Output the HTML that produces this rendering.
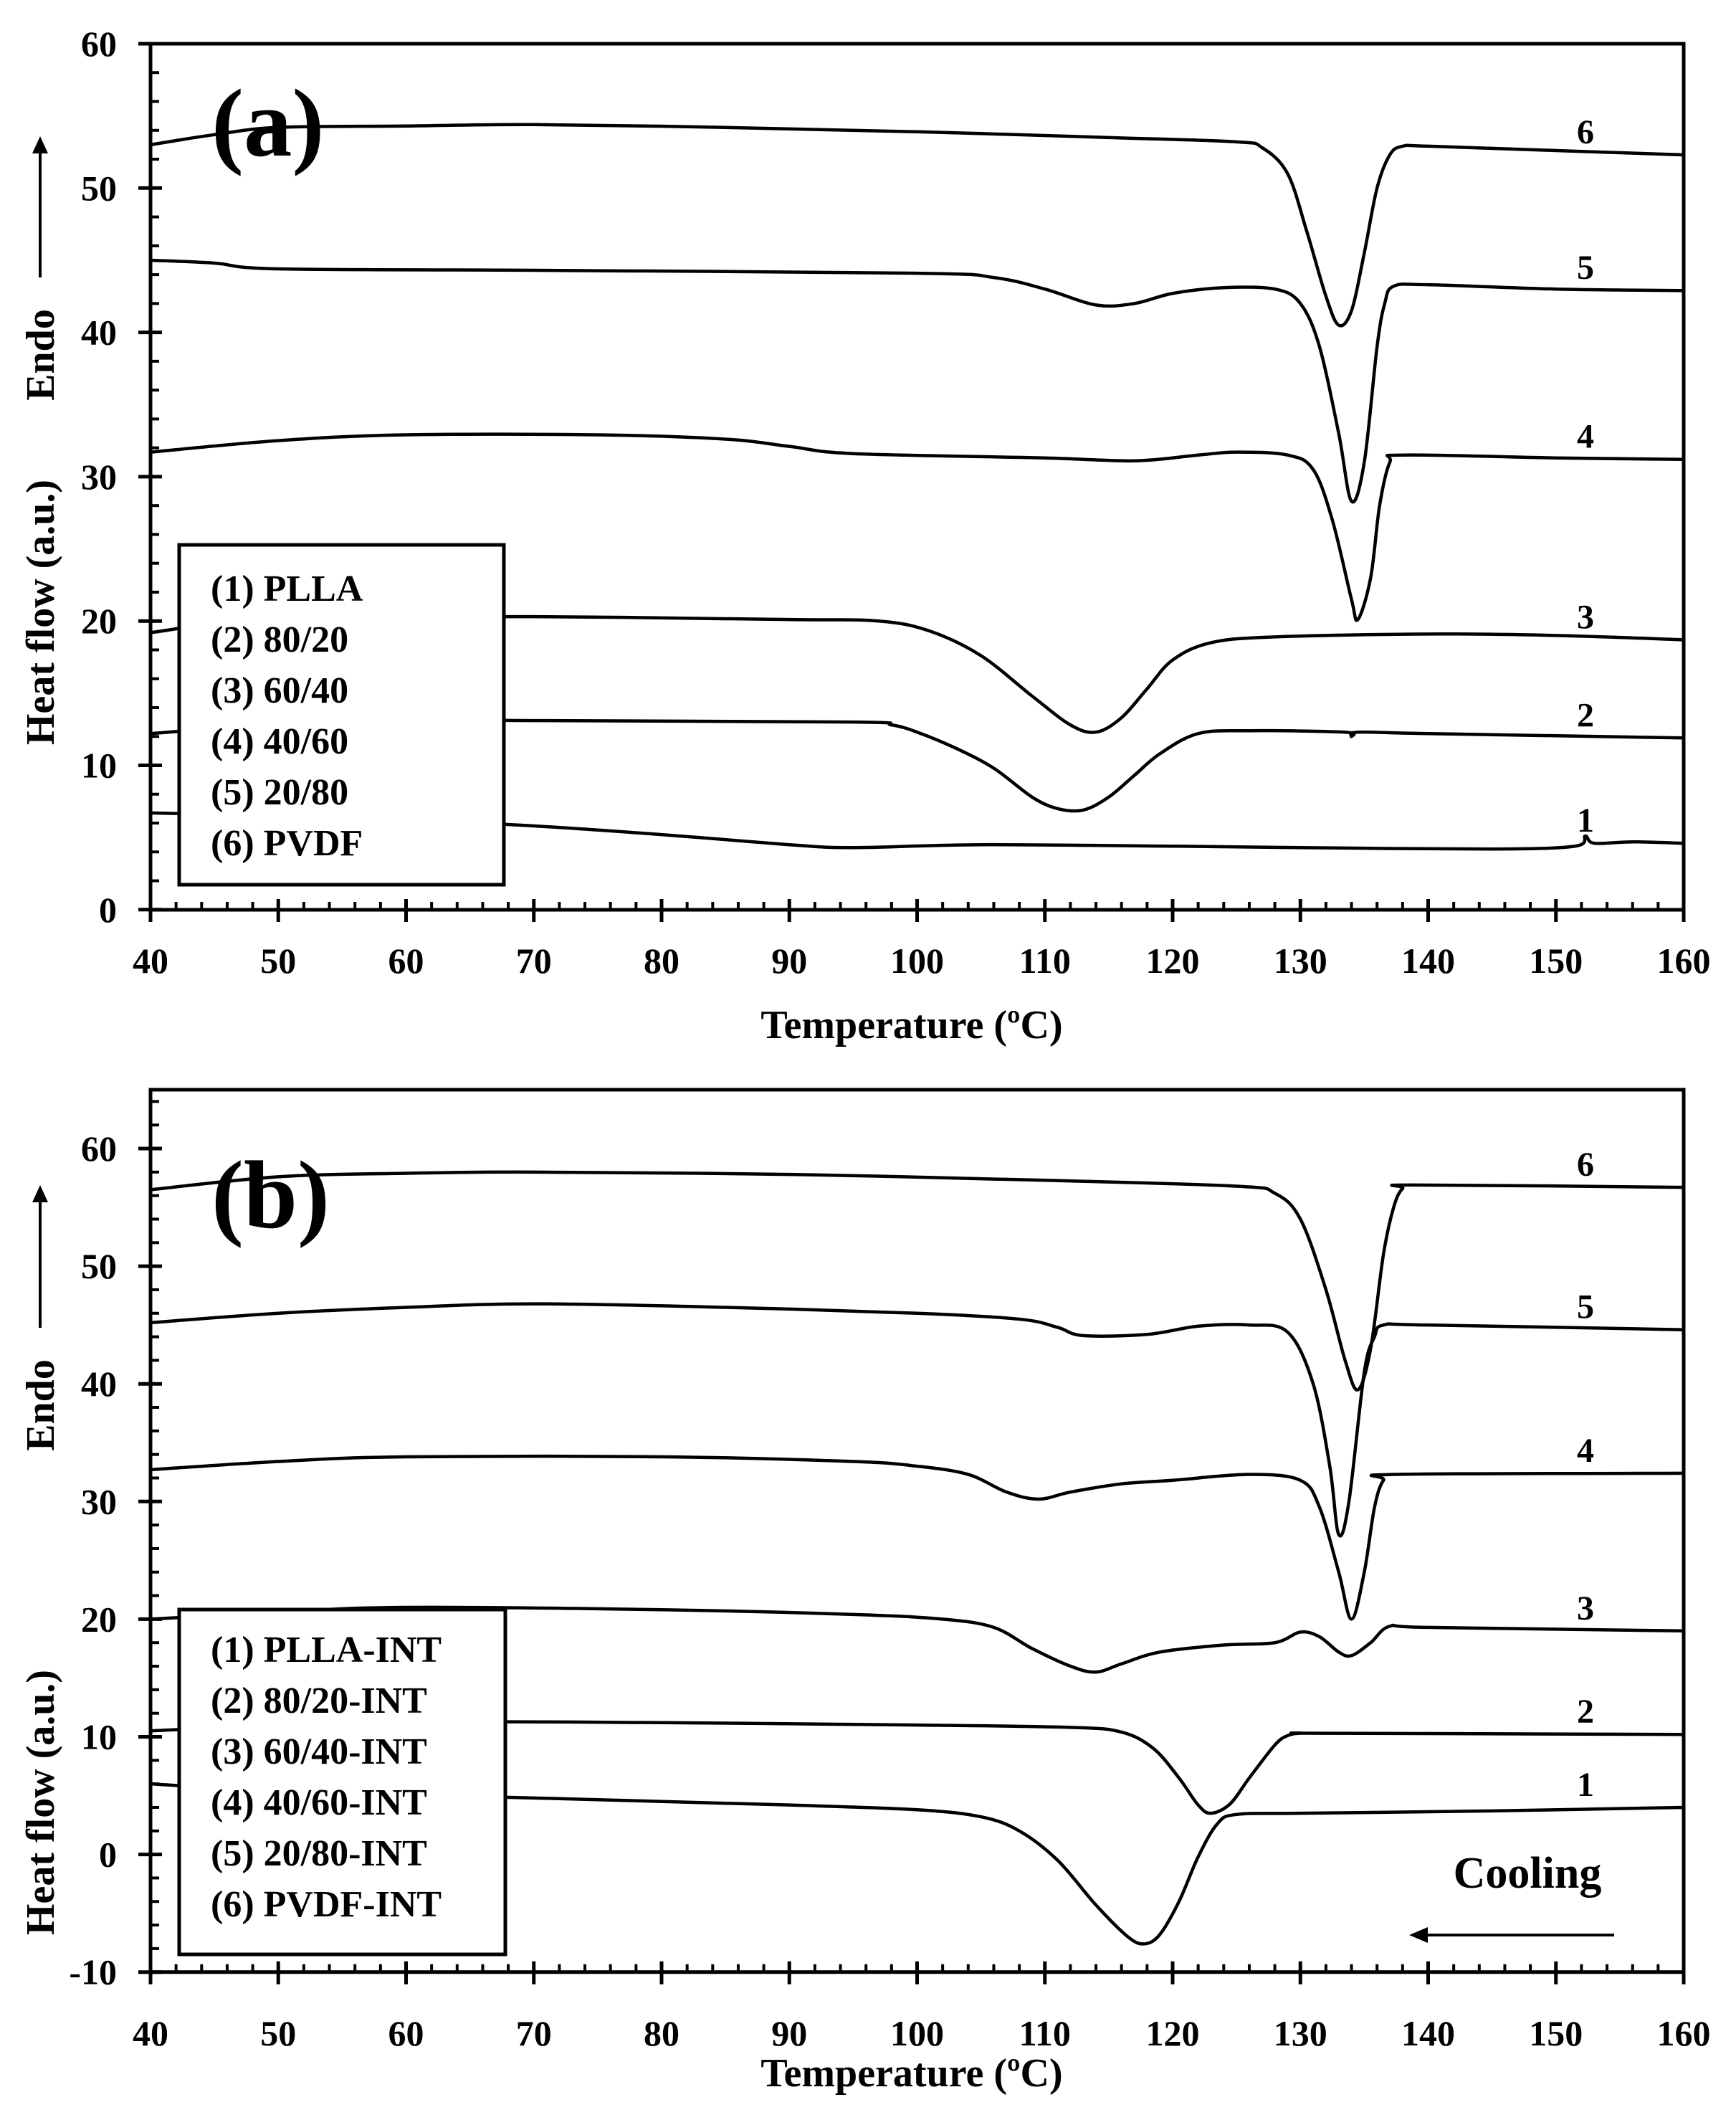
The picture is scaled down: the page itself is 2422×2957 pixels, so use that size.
<!DOCTYPE html>
<html><head><meta charset="utf-8"><style>
html,body{margin:0;padding:0;background:#fff}
svg{display:block}
text{font-family:"Liberation Serif",serif;font-weight:bold;fill:#000}
</style></head><body>
<svg id="s" width="2422" height="2957" viewBox="0 0 2422 2957" xmlns="http://www.w3.org/2000/svg"></svg>
<script>
const S=document.getElementById('s');
let h='';
const X=t=>210+(t-40)*17.825;
function panel(Y,ymin,ymax,top,bot,tickBase,curves,labels,legendBox,legend,legY0,tag,tagY){
  h+=`<rect x="210" y="${top}" width="2139" height="${bot-top}" fill="none" stroke="#000" stroke-width="5"/>`;
  for(let v=ymin;v<=ymax;v+=2){const y=Y(v);
    if(v%10===0){h+=`<line x1="193" x2="226" y1="${y}" y2="${y}" stroke="#000" stroke-width="5"/>`;
      h+=`<text x="163" y="${y+17}" font-size="50" text-anchor="end">${v}</text>`;}
    else h+=`<line x1="210" x2="222" y1="${y}" y2="${y}" stroke="#000" stroke-width="4"/>`;}
  for(let t=40;t<=160;t+=2){const x=X(t);
    if(t%10===0){h+=`<line x1="${x}" x2="${x}" y1="${bot-15}" y2="${bot+17}" stroke="#000" stroke-width="5"/>`;
      h+=`<text x="${x}" y="${tickBase}" font-size="50" text-anchor="middle">${t}</text>`;}
    else h+=`<line x1="${x}" x2="${x}" y1="${bot-11}" y2="${bot}" stroke="#000" stroke-width="4"/>`;}
  curves.forEach(c=>{
    const p=c.map(q=>[X(q[0]),Y(q[1])]);
    let d=`M${p[0][0]},${p[0][1]}`;
    for(let i=0;i<p.length-1;i++){
      const p0=p[Math.max(0,i-1)],p1=p[i],p2=p[i+1],p3=p[Math.min(p.length-1,i+2)];
      const c1=[p1[0]+(p2[0]-p0[0])/6,p1[1]+(p2[1]-p0[1])/6];
      const c2=[p2[0]-(p3[0]-p1[0])/6,p2[1]-(p3[1]-p1[1])/6];
      d+=` C${c1[0]},${c1[1]} ${c2[0]},${c2[1]} ${p2[0]},${p2[1]}`;}
    h+=`<path d="${d}" fill="none" stroke="#000" stroke-width="4.5" stroke-linejoin="round"/>`;
  });
  labels.forEach((l,i)=>{h+=`<text x="2212" y="${Y(l)-16}" font-size="48" text-anchor="middle">${i+1}</text>`;});
  const [lx,ly,lw,lh]=legendBox;
  h+=`<rect x="${lx}" y="${ly}" width="${lw}" height="${lh}" fill="#fff" stroke="#000" stroke-width="5"/>`;
  legend.forEach((s,i)=>{h+=`<text x="294" y="${legY0+i*71}" font-size="52">${s}</text>`;});
  h+=`<text x="295" y="${tagY}" font-size="135">${tag}</text>`;
}
const Ya=v=>61+(60-v)*20.13;
panel(Ya,0,60,61,1269,1357,[
 [[40,53],[45,53.7],[50,54.2],[60,54.3],[70,54.4],[85,54.2],[100,53.9],[115,53.5],[125,53.2],[127,52.8],[129,51],[130.5,47],[132,42.5],[133,40.5],[134,41.5],[135,45.5],[136,50],[137,52.3],[138,52.9],[140,52.9],[150,52.6],[160,52.3]],
 [[40,45],[45,44.8],[50,44.4],[70,44.3],[100,44.1],[106,43.8],[110,43],[114,41.9],[117,42],[120,42.7],[124,43.1],[128,43],[130,42],[131.5,39],[133,33],[134,28.3],[135,31],[136,39],[136.6,42],[137.3,43.2],[140,43.3],[150,43],[160,42.9]],
 [[40,31.7],[50,32.5],[60,32.9],[75,32.9],[85,32.6],[90,32.1],[95,31.6],[110,31.3],[117,31.1],[122,31.5],[125,31.7],[129,31.5],[131,30.5],[132.5,27],[134,21.5],[134.5,20.1],[135.5,23],[136.2,28],[137,31],[138,31.5],[150,31.3],[160,31.2]],
 [[40,19.2],[50,20.2],[70,20.3],[90,20.1],[97,20],[101,19.3],[105,17.6],[109,14.8],[112,12.8],[114,12.3],[116,13.3],[118,15.3],[120,17.3],[123,18.5],[128,18.9],[140,19.1],[150,19],[160,18.7]],
 [[40,12.2],[50,12.9],[55,13.2],[70,13.1],[95,13],[98,12.8],[100,12.3],[103,11.2],[106,9.8],[109,7.8],[111,7],[113,6.9],[115,7.8],[117,9.3],[119,10.8],[122,12.2],[126,12.4],[133.5,12.3],[134,12],[134.5,12.3],[140,12.2],[160,11.9]],
 [[40,6.7],[50,6.5],[60,6.2],[70,5.8],[80,5.2],[90,4.5],[95,4.3],[105,4.5],[120,4.4],[130,4.3],[145,4.2],[151.5,4.4],[152.3,5.1],[153,4.6],[156,4.7],[160,4.6]]
],[4.6,11.9,18.7,31.2,42.9,52.3],[250,760,453,474],["(1) PLLA","(2) 80/20","(3) 60/40","(4) 40/60","(5) 20/80","(6) PVDF"],838,"(a)",217);
const Yb=v=>1602-(v-60)*16.41;
panel(Yb,-10,65,Yb(65),Yb(-10),2853,[
 [[40,56.5],[50,57.6],[60,57.9],[70,58],[90,57.8],[110,57.3],[125,56.8],[128,56.2],[130,54],[132,48],[133.5,42],[134.5,39.5],[135.5,43],[136.5,51],[137.3,55],[138,56.6],[139,56.9],[160,56.7]],
 [[40,45.2],[50,46],[60,46.5],[70,46.8],[85,46.5],[100,46],[108,45.5],[111,44.8],[113,44.1],[118,44.2],[122,44.9],[126,45],[129,44.4],[131,40],[132.3,33],[133,27.2],[133.8,30],[135,41],[135.8,44],[136.5,45],[140,45],[160,44.6]],
 [[40,32.7],[50,33.4],[60,33.8],[80,33.8],[95,33.4],[100,33],[104,32.3],[107,30.8],[109.5,30.2],[112,30.8],[116,31.5],[120,31.8],[126,32.3],[130,31.8],[131.5,29.5],[133,24],[134,20],[135,24],[135.8,29.5],[136.5,31.8],[137.5,32.3],[160,32.4]],
 [[40,20],[50,20.6],[60,21],[80,20.8],[95,20.4],[102,20],[106,19.3],[109,17.5],[112,16],[114,15.5],[116,16.2],[119,17.2],[124,17.8],[128,18],[130,18.9],[131.5,18.5],[133,17.2],[134,16.9],[135.5,18],[137,19.4],[140,19.3],[160,19]],
 [[40,10.5],[50,11],[60,11.3],[80,11.2],[100,11],[112,10.8],[116,10.4],[118.5,9],[120.5,6.5],[122,4.2],[123,3.5],[124.5,4.3],[126,6.5],[128,9.3],[129,10.1],[130,10.3],[132,10.3],[160,10.2]],
 [[40,6],[50,5.4],[70,4.8],[90,4.2],[100,3.8],[105,3.2],[108,2],[111,-0.5],[114,-4.3],[116.5,-7],[117.8,-7.6],[119,-6.8],[120.5,-4],[122,-0.2],[123.5,2.6],[125,3.4],[130,3.5],[145,3.7],[160,4]]
],[4,10.2,19,32.4,44.6,56.7],[250,2245,455,481],["(1) PLLA-INT","(2) 80/20-INT","(3) 60/40-INT","(4) 40/60-INT","(5) 20/80-INT","(6) PVDF-INT"],2318,"(b)",1712);
h+=`<text x="1272" y="1448" font-size="56" text-anchor="middle">Temperature (ºC)</text>`;
h+=`<text x="1272" y="2910" font-size="56" text-anchor="middle">Temperature (ºC)</text>`;
function ytitle(cy,ey,a1,a2){
 h+=`<text transform="translate(75,${cy}) rotate(-90)" font-size="56" text-anchor="middle">Heat flow (a.u.)</text>`;
 h+=`<text transform="translate(75,${ey}) rotate(-90)" font-size="56" text-anchor="middle">Endo</text>`;
 h+=`<line x1="56" x2="56" y1="${a2}" y2="${a1+18}" stroke="#000" stroke-width="4"/>`;
 h+=`<polygon points="56,${a1} 45,${a1+24} 67,${a1+24}" fill="#000"/>`;
}
ytitle(854,495,190,387);
ytitle(2514,1960,1653,1852);
h+=`<text x="2131" y="2633" font-size="62" text-anchor="middle">Cooling</text>`;
h+=`<line x1="2252" x2="1990" y1="2699" y2="2699" stroke="#000" stroke-width="4"/>`;
h+=`<polygon points="1966,2699 1992,2688 1992,2710" fill="#000"/>`;
S.innerHTML=h;
</script>
</body></html>
